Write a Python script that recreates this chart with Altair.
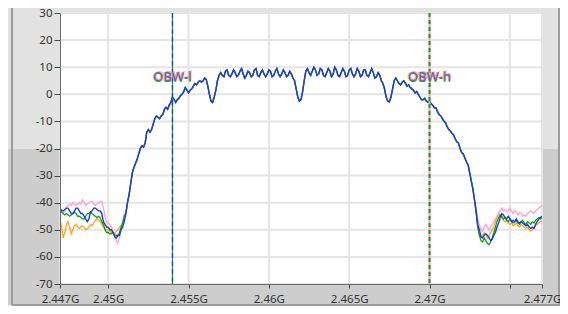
import altair as alt
import pandas as pd

# ---------------- data ----------------
start_ghz = 2.447
step_ghz = 0.0001
n_points = 301
freqs = [round(start_ghz + i * step_ghz, 4) for i in range(n_points)]

# in-band trace shared by all four captures (samples 41..258)
in_band = [
    -44, -40, -37, -33, -29, -27, -25.5, -24, -22, -20,
    -19, -19.5, -18, -14, -13, -14, -13, -11, -9, -8,
    -8.5, -9, -8, -7.5, -5.5, -4.8, -5.5, -4, -3, -1,
    -2, -3, -2, -1.5, -0.5, 0, 1, 2.5, 1.5, 0.5,
    1.5, 2, 3, 4, 3.5, 4.5, 5, 4.5, 5, 6,
    5.5, 3, 0, -2.5, -3, -1, 1.5, 5, 7, 8,
    7, 6.5, 8.5, 9, 7, 6.5, 7.5, 9, 8, 6.5,
    7, 8.5, 9.5, 7.5, 6, 7, 8.5, 8, 6.5, 7,
    9, 9.5, 7, 6.5, 8, 9, 7.5, 6.5, 7.5, 9,
    8.5, 6.5, 7, 8.5, 9.5, 7.5, 6.5, 7.5, 9, 8,
    6.5, 7, 8.5, 7.5, 6, 5, 2, -1, -2.5, -2,
    1, 5, 8.5, 9.5, 8, 7, 8.5, 10, 9, 7,
    7.5, 9.5, 9, 7, 6.5, 8, 9.5, 8.5, 6.5, 7.5,
    10, 9, 7, 6.5, 8, 9.5, 8.5, 6.5, 7, 9,
    9.5, 7.5, 6.5, 7.5, 9.5, 8.5, 6.5, 7, 9, 9,
    7, 6.5, 8, 9.5, 8, 6, 6.5, 8, 7, 5,
    4, 2, -1, -2.5, -2.8, -1, 2, 5, 6, 5,
    4, 3.5, 4.5, 5, 4, 3, 3.5, 2.5, 2, 1.5,
    0.5, 1, 0, -1, -2, -2, -1.5, -2.5, -3, -2.5,
    -3.5, -4, -5, -5, -6.5, -7.5, -8, -9, -10, -10.5,
    -12, -13, -13.5, -14.5, -15, -16.5, -17.5, -18, -20, -21.5,
    -22, -23.5, -25, -26, -29, -32, -35, -39,
]

# lower noise floor (samples 0..40)
orange_left = [-46, -49, -53, -51, -48, -47, -49, -51.5, -50, -48.5,
               -48, -49, -49.5, -49, -48.5, -49, -50, -49.5, -49, -48,
               -48.5, -47.5, -46.5, -46, -46.5, -47, -48, -49, -49.5, -50,
               -50, -50.5, -51, -51, -51.5, -50.5, -50, -49, -48.5, -47.5, -45]
pink_left = [-42, -43, -44, -43, -41.5, -41, -40.5, -41, -40, -40.5,
             -41, -40.5, -40, -40.5, -39, -40, -41, -40.5, -40, -39.5,
             -39.5, -40.5, -41, -40.5, -40, -39.5, -39.5, -42, -45, -47,
             -47.5, -48, -49, -50.5, -52, -54, -55, -53, -50, -47, -44]
green_left = [-43, -43.5, -44, -44.5, -44, -44.5, -45, -44.5, -44, -43.5,
              -44, -45, -45, -45.5, -46, -46, -45, -44, -44, -43.5,
              -44, -44.5, -45, -45.5, -45, -45.5, -47, -48, -50, -51,
              -51, -51.5, -51.5, -51, -52, -52, -52.5, -51, -49, -47.5, -45]
blue_left = [-42, -43, -43, -42.5, -42, -42, -43, -44, -44, -43,
             -42, -42, -43, -44, -44, -45, -46, -47, -46, -43.5,
             -43, -42, -42, -42.5, -43, -43, -44, -47, -48, -49,
             -49, -50, -50, -51, -52.5, -53, -52, -52, -50, -49, -47]

# upper noise floor (samples 259..300)
orange_right = [-43, -49, -52, -53, -52, -51, -52, -53, -52.5, -51,
                -50, -49, -47, -45.5, -44, -44.5, -45.5, -46.5, -47, -46.5,
                -47.5, -48, -47.5, -48.5, -48, -47.5, -48.5, -49, -48, -48.5,
                -49, -49.5, -49, -50, -50.5, -50, -49, -48.5, -48, -47.5, -47, -47]
pink_right = [-42, -46, -48, -50, -50.5, -49, -48, -49, -50, -49,
              -48, -47, -46, -45, -44, -43, -42, -43, -42.5, -43.5,
              -43, -42, -43, -44, -43, -43.5, -44.5, -43.5, -44, -45,
              -44.5, -45, -44, -43.5, -43, -43.5, -44, -43, -42.5, -42, -41.5, -41]
green_right = [-44, -49, -52, -54, -54.5, -53, -54, -55, -55.5, -54.5,
               -53, -51, -49, -47, -45.5, -44.5, -45, -46, -45.5, -46.5,
               -47, -46, -46.5, -47.5, -47, -46.5, -47.5, -48, -47, -46.5,
               -47.5, -48, -47, -47.5, -48, -47, -47.5, -46.5, -46, -45.5, -46, -45.5]
blue_right = [-43, -48, -50, -52.5, -53, -52, -51.5, -52, -53, -54,
              -53.5, -52, -51, -49, -47.5, -45.5, -44, -44.5, -45.5, -46,
              -45, -46, -47, -46.5, -47, -46, -47, -47.5, -47, -47.5,
              -48, -48.5, -48, -49, -49.5, -49, -49.5, -48, -47, -46, -45.5, -45]

series_names = ["orange", "pink", "green", "blue"]
series_colors = ["#ffa31a", "#ff9fd2", "#11a011", "#1a3ddb"]
series_values = [
    orange_left + in_band + orange_right,
    pink_left + in_band + pink_right,
    green_left + in_band + green_right,
    blue_left + in_band + blue_right,
]

cursor_names = ["OBW-l", "OBW-h"]
cursor_freqs = [2.4540, 2.4700]
cursor_label_levels = [6.5, 6.5]

x_tick_values = [2.447, 2.45, 2.455, 2.46, 2.465, 2.47, 2.475, 2.477]
x_tick_labels = ["2.447G", "2.45G", "2.455G", "2.46G", "2.465G", "2.47G", "", "2.477G"]
y_tick_values = [-70, -60, -50, -40, -30, -20, -10, 0, 10, 20, 30]

# ---------------- chart ----------------
W, H = 482, 271
PAD_L, PAD_T, PAD_R, PAD_B = 52, 5, 18, 22
FONT = "Noto Sans"

label_expr = "''"
for v, lab in reversed(list(zip(x_tick_values, x_tick_labels))):
    label_expr = f"abs(datum.value - {v}) < 0.00001 ? '{lab}' : ({label_expr})"

x_scale = alt.Scale(domain=[2.447, 2.477], nice=False, zero=False)
y_scale = alt.Scale(domain=[-70, 30], nice=False, zero=False)

x_axis = alt.Axis(values=x_tick_values, labelExpr=label_expr, title=None, grid=False,
                  labelOverlap=False, labelFlush=False, tickSize=4, labelPadding=5,
                  domainColor="#6a6a6a", tickColor="#4a4a4a", labelColor="#333333",
                  labelFont=FONT, labelFontSize=11.5, zindex=1)
y_axis = alt.Axis(values=y_tick_values, labelExpr="'' + datum.value", title=None, grid=False,
                  labelOverlap=False, labelFlush=False, tickSize=6, labelPadding=2,
                  domainColor="#6a6a6a", tickColor="#4a4a4a", labelColor="#333333",
                  labelFont=FONT, labelFontSize=11.5, zindex=1)

X = alt.X("freq:Q", scale=x_scale, axis=x_axis)
Y = alt.Y("level:Q", scale=y_scale, axis=y_axis)

one = pd.DataFrame({"k": [0]})
dark = "#cdcdcd"
edge = "#9c9c9c"
right_edge = W + PAD_R - 1
bottom_edge = H + PAD_B - 1

deco = [
    alt.Chart(one).mark_rect(color=dark).encode(x=alt.value(-PAD_L), x2=alt.value(0), y=alt.value(136), y2=alt.value(bottom_edge)),
    alt.Chart(one).mark_rect(color=dark).encode(x=alt.value(W), x2=alt.value(right_edge), y=alt.value(136), y2=alt.value(bottom_edge)),
    alt.Chart(one).mark_rect(color=dark).encode(x=alt.value(-PAD_L), x2=alt.value(right_edge), y=alt.value(H), y2=alt.value(bottom_edge)),
    alt.Chart(one).mark_rule(color=edge, strokeWidth=2).encode(x=alt.value(-48), y=alt.value(-PAD_T), y2=alt.value(bottom_edge)),
    alt.Chart(one).mark_rule(color=edge, strokeWidth=2).encode(x=alt.value(right_edge), y=alt.value(-PAD_T), y2=alt.value(bottom_edge)),
    alt.Chart(one).mark_rule(color=edge, strokeWidth=2).encode(x=alt.value(-48), x2=alt.value(right_edge + 1), y=alt.value(bottom_edge)),
]

grid_x = alt.Chart(pd.DataFrame({"freq": x_tick_values})).mark_rule(color="#e4e4e4", strokeWidth=2).encode(x=X)
grid_y = alt.Chart(pd.DataFrame({"level": y_tick_values})).mark_rule(color="#e4e4e4", strokeWidth=2).encode(y=Y)

traces = []
for name, color, vals in zip(series_names, series_colors, series_values):
    df = pd.DataFrame({"freq": freqs, "level": vals})
    traces.append(
        alt.Chart(df).mark_line(color=color, strokeWidth=1.3 if name != "blue" else 1.4, clip=True)
        .encode(x=X, y=Y)
    )

cur = pd.DataFrame({"freq": cursor_freqs, "level": cursor_label_levels, "name": cursor_names})
cur_l = cur.iloc[[0]]
cur_h = cur.iloc[[1]]
cursors = [
    alt.Chart(cur_l).mark_rule(color="#11a011", strokeWidth=1.2).encode(x=X),
    alt.Chart(cur_l).mark_rule(color="#1a3ddb", strokeWidth=1.3, strokeDash=[5, 3]).encode(x=X),
    alt.Chart(cur_h).mark_rule(color="#ff9fd2", strokeWidth=2).encode(x=X),
    alt.Chart(cur_h).mark_rule(color="#11a011", strokeWidth=2, strokeDash=[4, 3]).encode(x=X),
]

labels = []
for col, dx, dy, op in [("#ffa31a", -1, 0, 0.9), ("#11a011", 0, 1, 0.9), ("#ff9fd2", 1, -1, 0.9), ("#5c55d0", 0, 0, 0.85)]:
    labels.append(
        alt.Chart(cur).mark_text(font=FONT, fontSize=13, align="center", baseline="middle",
                                 color=col, dx=dx, dy=dy, opacity=op)
        .encode(x=X, y=Y, text="name:N")
    )

chart = alt.layer(*deco, grid_x, grid_y, *traces, *cursors, *labels).properties(
    width=W, height=H,
    padding={"left": PAD_L, "top": PAD_T, "right": PAD_R, "bottom": PAD_B},
    autosize=alt.AutoSizeParams(type="none"),
    background="#e2e2e2",
).configure_view(fill="white", stroke="#a8a8a8", strokeWidth=1)

chart.save("out.html", embed_options={"renderer": "svg", "actions": False})
